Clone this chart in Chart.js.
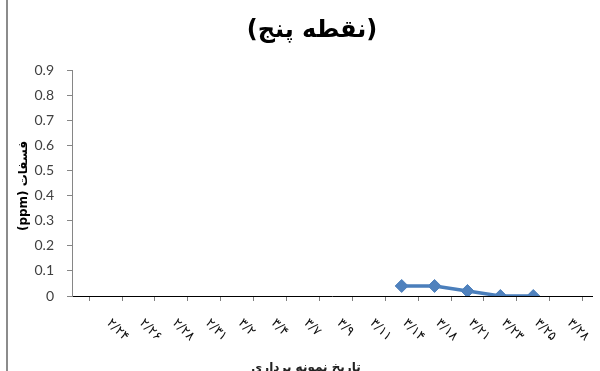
<!DOCTYPE html>
<html>
<head>
<meta charset="utf-8">
<script src="https://cdn.jsdelivr.net/npm/chart.js@4/dist/chart.umd.min.js"></script>
<style>
  html, body { margin: 0; padding: 0; background: #fff; }
  #wrap { width: 600px; height: 371px; }
</style>
</head>
<body>
<div id="wrap"><canvas id="c" width="600" height="371"></canvas></div>
<script>
// Sampling dates (Persian calendar, month/day)
const dates = ['۲/۲۴','۲/۲۶','۲/۲۸','۲/۳۱','۳/۲','۳/۴','۳/۷','۳/۹','۳/۱۱','۳/۱۴','۳/۱۸','۳/۲۱','۳/۲۳','۳/۲۵','۳/۲۸'];
// Phosphate concentration (ppm) at sampling point five
const phosphate = [null, null, null, null, null, null, null, null, null, 0.04, 0.04, 0.02, 0, 0, null];
// Vertical axis ticks
const yTicks = [0, 0.1, 0.2, 0.3, 0.4, 0.5, 0.6, 0.7, 0.8, 0.9];

const chartTitle = '(نقطه پنج)';
const yTitle = 'فسفات (ppm)';
const xTitle = 'تاریخ نمونه برداری';

const points = phosphate.map((v, i) => ({ x: i, y: v }));
// tick marks sit on the boundaries between dates
const boundaries = dates.map((d, i) => i - 0.5).concat([dates.length - 0.5]);

const decorations = {
  id: 'decorations',
  afterDraw(chart) {
    const ctx = chart.ctx;
    const xs = chart.scales.x;
    ctx.save();
    // frame edge on the left
    ctx.fillStyle = '#8c8c8c';
    ctx.fillRect(6, 0, 2, 371);

    // chart title
    ctx.direction = 'rtl';
    ctx.fillStyle = '#000';
    ctx.textAlign = 'center';
    ctx.textBaseline = 'middle';
    ctx.font = 'bold 24px "DejaVu Sans"';
    ctx.fillText(chartTitle, 312, 31);

    // horizontal axis title
    ctx.fillStyle = '#222';
    ctx.font = 'bold 12px "DejaVu Sans"';
    ctx.textBaseline = 'top';
    ctx.fillText(xTitle, 306, 362);

    // vertical axis title
    ctx.save();
    ctx.translate(24, 186);
    ctx.rotate(-Math.PI / 2);
    ctx.fillStyle = '#000';
    ctx.font = 'bold 12px "DejaVu Sans"';
    ctx.textBaseline = 'middle';
    ctx.fillText(yTitle, 0, 0);
    ctx.restore();

    // date labels, slanted downwards
    ctx.direction = 'ltr';
    ctx.fillStyle = '#111';
    ctx.font = '13px "DejaVu Sans"';
    ctx.textAlign = 'left';
    ctx.textBaseline = 'middle';
    dates.forEach((d, i) => {
      const px = xs.getPixelForValue(i);
      ctx.save();
      ctx.translate(px + 3, 321);
      ctx.rotate(Math.PI / 4);
      ctx.fillText(d, 0, 0);
      ctx.restore();
    });
    ctx.restore();
  }
};

new Chart(document.getElementById('c'), {
  type: 'line',
  data: {
    datasets: [{
      data: points,
      borderColor: '#4A7EBB',
      backgroundColor: '#4F81BD',
      borderWidth: 3.5,
      pointStyle: 'rectRot',
      pointRadius: 6.5,
      pointBorderWidth: 1,
      pointBorderColor: '#4F81BD',
      pointBackgroundColor: '#4F81BD',
      spanGaps: false,
      tension: 0
    }]
  },
  options: {
    responsive: false,
    animation: false,
    events: [],
    layout: { padding: { top: 70, left: 0, right: 3, bottom: 0 } },
    plugins: { legend: { display: false }, title: { display: false }, tooltip: { enabled: false } },
    scales: {
      x: {
        type: 'linear',
        min: -1.02,
        max: 14.8,
        afterBuildTicks(scale) { scale.ticks = boundaries.map(v => ({ value: v })); },
        afterFit(scale) { scale.height = 75; },
        ticks: { display: false },
        grid: { drawOnChartArea: false, drawTicks: true, tickLength: 5, tickColor: '#7f7f7f' },
        border: { color: '#000', width: 1 }
      },
      y: {
        min: 0,
        max: 0.9,
        afterBuildTicks(scale) { scale.ticks = yTicks.map(v => ({ value: v })); },
        afterFit(scale) { scale.width = 72; },
        ticks: {
          padding: 13,
          color: '#404040',
          font: { family: 'Lato', size: 14 },
          callback: v => v === 0 ? '0' : v.toFixed(1)
        },
        grid: { drawOnChartArea: false, drawTicks: true, tickLength: 5, tickColor: '#868686' },
        border: { color: '#868686', width: 1 }
      }
    }
  },
  plugins: [decorations]
});
</script>
</body>
</html>
